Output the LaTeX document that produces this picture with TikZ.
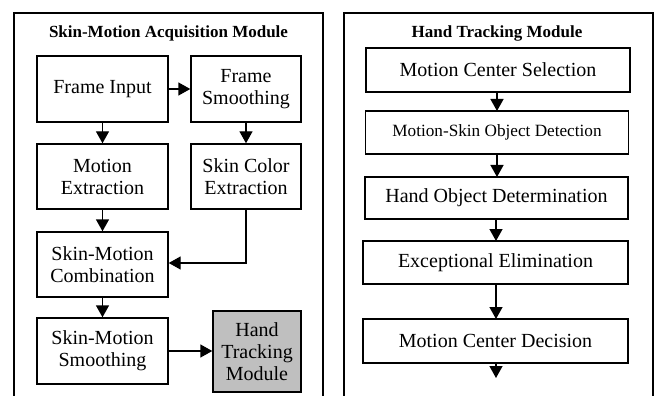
\documentclass[tikz,border=0pt]{standalone}
\usepackage{fontspec}
\setmainfont{Liberation Serif}
\usetikzlibrary{arrows.meta}
\begin{document}
\begin{tikzpicture}[x=1pt,y=-1pt,
  blk/.style={draw,line width=1.4pt,fill=white,align=center,inner sep=0pt,
    font=\fontsize{20}{22}\selectfont},
  blksmall/.style={blk,font=\fontsize{17.2}{20}\selectfont},
  gblk/.style={blk,fill=black!25},
  ttl/.style={font=\fontsize{17}{20}\selectfont\bfseries},
  frame/.style={line width=1.8pt},
  arr/.style={line width=1.4pt,-{Triangle[length=12pt,width=13pt]}}]
\useasboundingbox (0,0) rectangle (657,396);
\clip (0,0) rectangle (657,396);

% module frames (open at the bottom edge)
\draw[frame] (14,400) -- (14,13) -- (323,13) -- (323,400);
\draw[frame] (344,400) -- (344,13) -- (653,13) -- (653,400);

\node[ttl] (t1) at (168.5,33) {Skin-Motion Acquisition Module};
\node[ttl] (t2) at (497,33) {Hand Tracking Module};

% skin-motion acquisition
\node[blk,minimum width=131,minimum height=66] (fi) at (102.5,89) {Frame Input};
\node[blk,minimum width=110,minimum height=66] (fs) at (246,89) {Frame\\Smoothing};
\node[blk,minimum width=131,minimum height=65] (me) at (102.5,176.5) {Motion\\Extraction};
\node[blk,minimum width=110,minimum height=65] (sc) at (246,176.5) {Skin Color\\Extraction};
\node[blk,minimum width=131,minimum height=65] (smc) at (102.5,264.5) {Skin-Motion\\Combination};
\node[blk,minimum width=131,minimum height=66] (sms) at (102.5,351) {Skin-Motion\\Smoothing};
\node[gblk,minimum width=88,minimum height=81] (htm) at (257,351.5) {Hand\\Tracking\\Module};

\draw[arr] (fi) -- (fs);
\draw[arr] (fi) -- (me);
\draw[arr] (fs) -- (sc);
\draw[arr] (me) -- (smc);
\draw[arr] (sc.south) |- (smc.east |- 0,263);
\draw[arr] (smc) -- (sms);
\draw[arr] (sms) -- (sms.east -| htm.west);

% hand tracking
\node[blk,minimum width=264,minimum height=44] (mcs) at (498,70) {Motion Center Selection};
\node[blksmall,minimum width=263,minimum height=43] (msd) at (497,132.5) {Motion-Skin Object Detection};
\node[blk,minimum width=263,minimum height=42] (hod) at (496.5,198) {Hand Object Determination};
\node[blk,minimum width=265,minimum height=43] (ee) at (495.5,262.5) {Exceptional Elimination};
\node[blk,minimum width=265,minimum height=44] (mcd) at (495.5,341) {Motion Center Decision};
\coordinate (out) at (496,378);

\draw[arr] (497,92) -- (497,111);
\draw[arr] (497,154) -- (497,177);
\draw[arr] (496,219) -- (496,241);
\draw[arr] (496,284) -- (496,319);
\draw[arr] (mcd.south -| out) -- (out);
\end{tikzpicture}
\end{document}
